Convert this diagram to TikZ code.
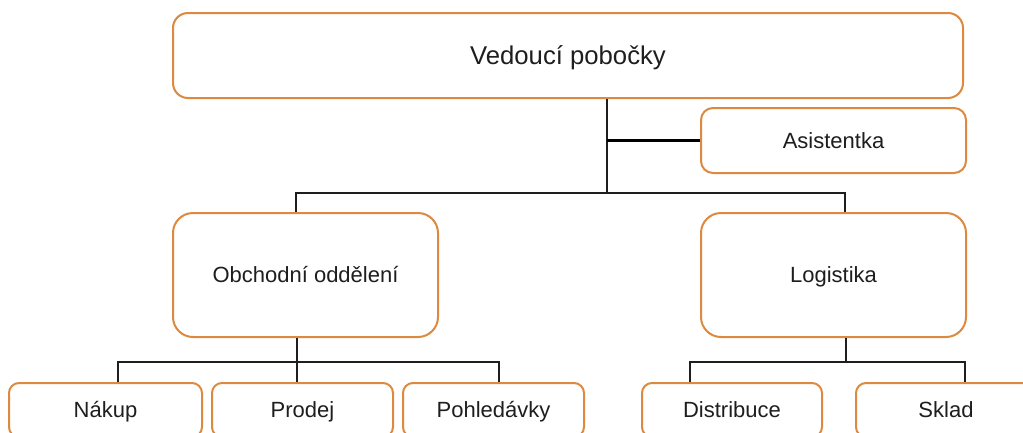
\documentclass[tikz,border=0pt]{standalone}
\usepackage{fontspec}
\setmainfont{Liberation Sans}
\definecolor{boxorange}{RGB}{222,137,64}
\definecolor{txt}{RGB}{30,30,30}
\begin{document}
\begin{tikzpicture}[x=1pt,y=-1pt,
  orgbox/.style={draw=boxorange, line width=2pt, fill=white, text=txt, inner sep=0pt,
    font=\fontsize{22}{26}\selectfont, text height=15.8pt, text depth=0pt},
  conn/.style={draw=txt, line width=1.6pt},
  thickconn/.style={draw=black, line width=3.5pt}]
\useasboundingbox (0,0) rectangle (1023,432);
\clip (0,0) rectangle (1023,432);
\fill[white] (0,0) rectangle (1023,432);

\node[orgbox, rounded corners=15pt, minimum width=790pt, minimum height=85pt,
  font=\fontsize{25.7}{30}\selectfont, text height=18.4pt] (top) at (568,55.5) {Vedoucí pobočky};
\node[orgbox, rounded corners=12pt, minimum width=265pt, minimum height=65pt] (asis) at (833.5,140.5) {Asistentka};
\node[orgbox, rounded corners=20pt, minimum width=265pt, minimum height=124pt] (obch) at (305.5,275) {Obchodní oddělení};
\node[orgbox, rounded corners=20pt, minimum width=265pt, minimum height=124pt] (logi) at (833.5,275) {Logistika};
\node[orgbox, rounded corners=10pt, minimum width=193pt, minimum height=54pt] (nakup) at (105.5,410) {Nákup};
\node[orgbox, rounded corners=10pt, minimum width=181pt, minimum height=54pt] (prodej) at (302.5,410) {Prodej};
\node[orgbox, rounded corners=10pt, minimum width=181pt, minimum height=54pt] (pohl) at (493.5,410) {Pohledávky};
\node[orgbox, rounded corners=10pt, minimum width=180pt, minimum height=54pt] (distr) at (732,410) {Distribuce};
\node[orgbox, rounded corners=10pt, minimum width=180pt, minimum height=54pt] (sklad) at (946,410) {Sklad};

\coordinate (j1) at (607,193);
\coordinate (j2) at (297,362);
\coordinate (j3) at (846,362);

\draw[conn] (top.south -| j1) -- (j1);
\draw[thickconn] (j1 |- asis.west) -- (asis.west);
\draw[conn] ([xshift=-9.5pt]obch.north) |- (j1) -| ([xshift=11.5pt]logi.north);

\draw[conn] (obch.south -| j2) -- (j2);
\draw[conn] ([xshift=12.5pt]nakup.north) |- (j2) -| ([xshift=5.5pt]pohl.north);
\draw[conn] (j2) -- (prodej.north -| j2);

\draw[conn] (logi.south -| j3) -- (j3);
\draw[conn] ([xshift=-42pt]distr.north) |- (j3) -| ([xshift=19pt]sklad.north);
\end{tikzpicture}
\end{document}
